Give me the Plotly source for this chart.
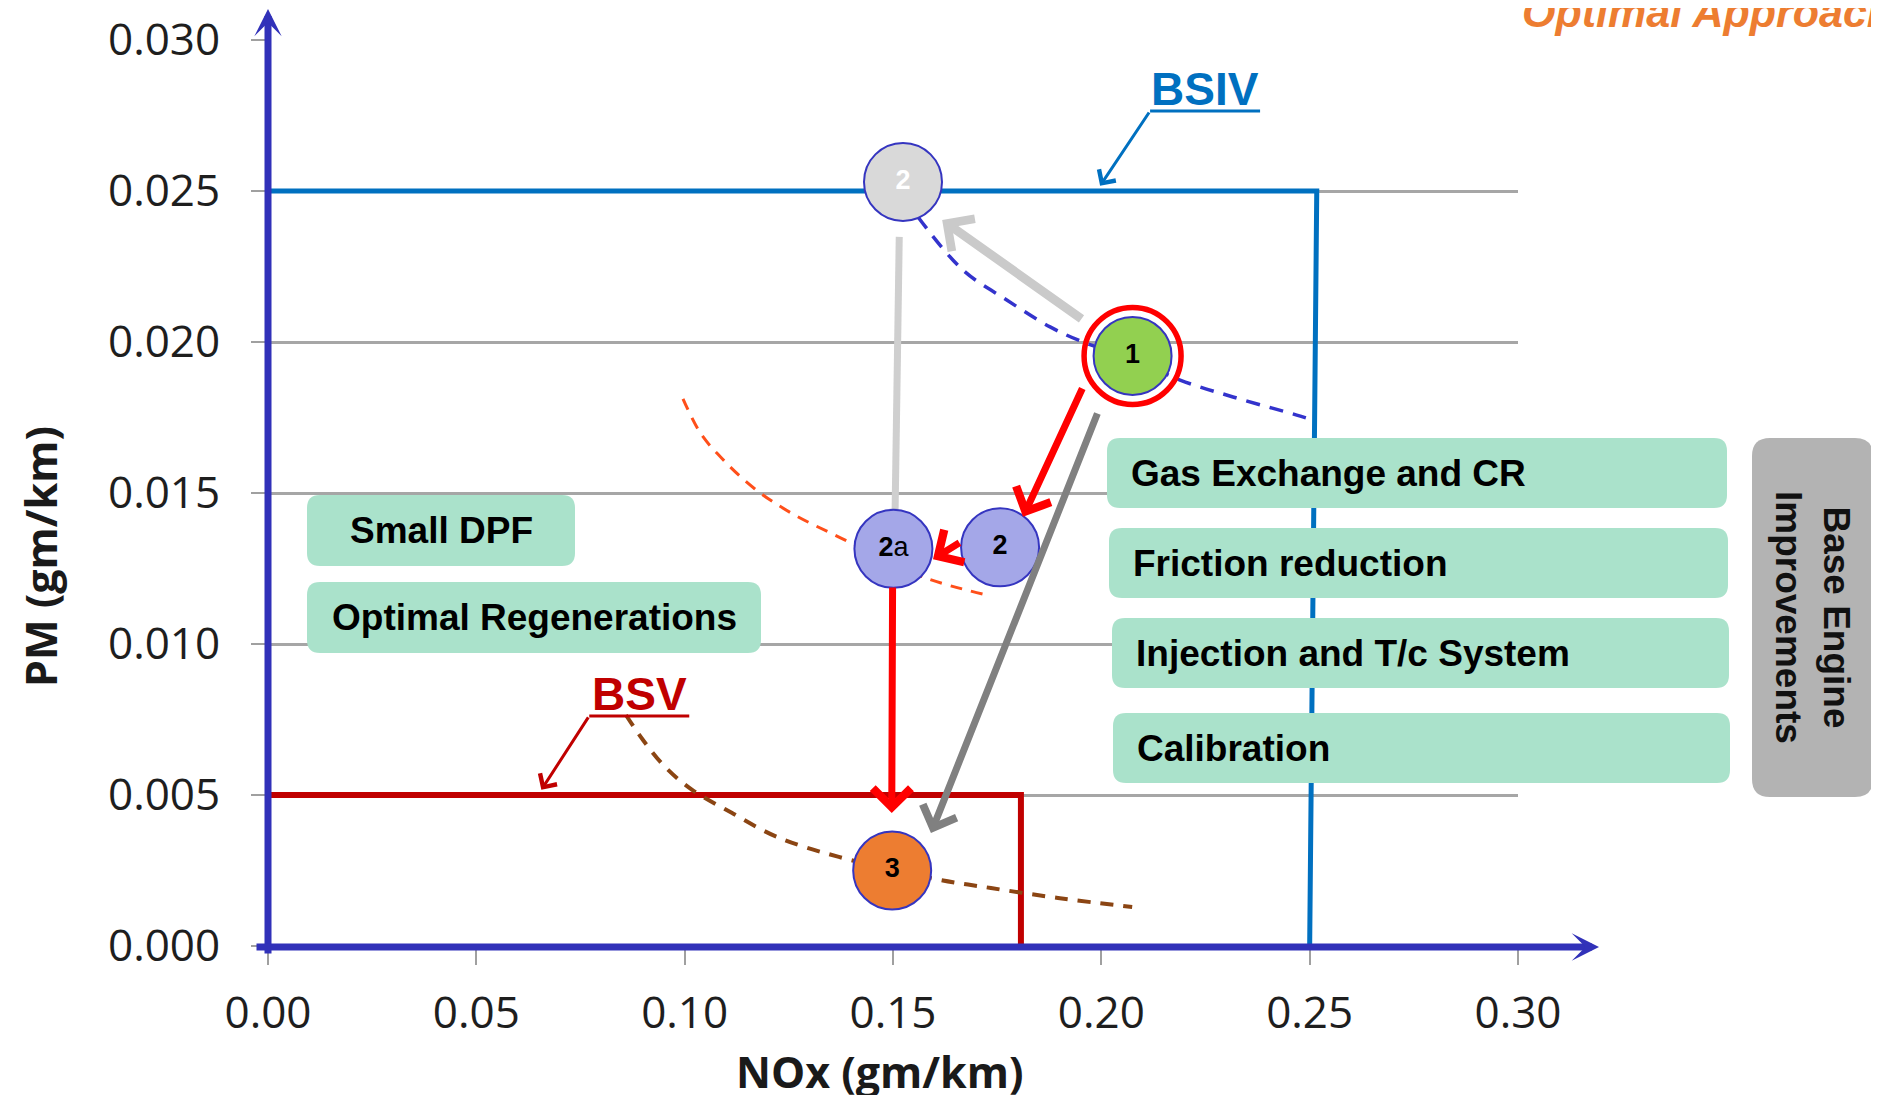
import plotly.graph_objects as go

# ---------------- data ----------------
x_ticks = [0.00, 0.05, 0.10, 0.15, 0.20, 0.25, 0.30]
y_ticks = [0.000, 0.005, 0.010, 0.015, 0.020, 0.025, 0.030]

# emission limit boxes
bsiv_nox = [0.0, 0.2517, 0.2500]
bsiv_pm = [0.025, 0.025, 0.0]
bsv_nox = [0.0, 0.1807, 0.1807]
bsv_pm = [0.005, 0.005, 0.0]

# trade-off curves (dashed)
bsiv_curve_nox = [0.1560, 0.1668, 0.1773, 0.1877, 0.1956, 0.2075, 0.2189, 0.2316, 0.2469, 0.2499]
bsiv_curve_pm = [0.02414, 0.02238, 0.02139, 0.0205, 0.0200, 0.01945, 0.01874, 0.01818, 0.01758, 0.01745]
mid_curve_nox = [0.0996, 0.1039, 0.1096, 0.1168, 0.1254, 0.1369, 0.1572, 0.1726]
mid_curve_pm = [0.01812, 0.01696, 0.01605, 0.01514, 0.01435, 0.01355, 0.01222, 0.01162]
bsv_curve_nox = [0.0859, 0.0900, 0.0953, 0.1018, 0.1114, 0.1222, 0.1370, 0.1601, 0.1735, 0.1896, 0.2074]
bsv_curve_pm = [0.00765, 0.00682, 0.00593, 0.00517, 0.0044, 0.00361, 0.00295, 0.00222, 0.00192, 0.00159, 0.00129]

# development stages
stage_nox = [0.1524, 0.2075, 0.1501, 0.1757, 0.1498]
stage_pm = [0.0253, 0.01954, 0.01315, 0.0132, 0.0025]
stage_text = ["<b>2</b>", "<b>1</b>", "<b>2</b>a", "<b>2</b>", "<b>3</b>"]
stage_fill = ["#D9D9D9", "#92D050", "#A4A7E8", "#A4A7E8", "#ED7D31"]
stage_textcolor = ["#FFFFFF", "#000000", "#000000", "#000000", "#000000"]

# connector (no head) from grey stage 2 to stage 2a
link_nox = [0.1515, 0.1505]
link_pm = [0.02348, 0.01437]

# arrows: tail_nox, tail_pm, tip_nox, tip_pm
arrow_tail_nox = [0.1956, 0.1956, 0.1663, 0.1499, 0.1992]
arrow_tail_pm = [0.02073, 0.01851, 0.01338, 0.01192, 0.01768]
arrow_tip_nox = [0.1618, 0.1812, 0.1596, 0.1497, 0.1591]
arrow_tip_pm = [0.02404, 0.01421, 0.01281, 0.0044, 0.00374]
arrow_color = ["#CACACA", "#FF0000", "#FF0000", "#FF0000", "#808080"]

# limit labels
bsiv_label = dict(text="BSIV", nox=0.2248, pm=0.02765, line_nox=[0.2117, 0.2381], tip=(0.1997, 0.02517))
bsv_label = dict(text="BSV", nox=0.0891, pm=0.00762, line_nox=[0.0771, 0.1011], tip=(0.0656, 0.00517))

left_boxes = ["Small DPF", "Optimal Regenerations"]
right_boxes = ["Gas Exchange and CR", "Friction reduction", "Injection and T/c System", "Calibration"]
side_box_text = "Base Engine<br>Improvements"
corner_text = "Optimal Approach"

# ---------------- layout geometry ----------------
# the page body adds an 8px margin, so the figure is 8px smaller and all
# reference pixel positions below are page positions.
OFF = 8
W, H = 1879 - OFF, 1095 - OFF
PLOT_L, PLOT_R, PLOT_T, PLOT_B = 268, 1518, 40, 946     # page pixels of the plot area
ML, MT = PLOT_L - OFF, PLOT_T - OFF
PW, PH = PLOT_R - PLOT_L, PLOT_B - PLOT_T
MR, MB = W - ML - PW, H - MT - PH


def px(x):
    return (x - PLOT_L) / PW


def py(y):
    return (PLOT_B - y) / PH


def rrect(x0, y0, x1, y1, r):
    pts = [
        f"M{px(x0 + r)},{py(y0)}", f"L{px(x1 - r)},{py(y0)}",
        f"Q{px(x1)},{py(y0)} {px(x1)},{py(y0 + r)}", f"L{px(x1)},{py(y1 - r)}",
        f"Q{px(x1)},{py(y1)} {px(x1 - r)},{py(y1)}", f"L{px(x0 + r)},{py(y1)}",
        f"Q{px(x0)},{py(y1)} {px(x0)},{py(y1 - r)}", f"L{px(x0)},{py(y0 + r)}",
        f"Q{px(x0)},{py(y0)} {px(x0 + r)},{py(y0)}", "Z",
    ]
    return " ".join(pts)


left_box_geom = [(307, 495, 575, 566), (307, 582, 761, 653)]
right_box_geom = [(1107, 438, 1727, 508), (1109, 528, 1728, 598), (1112, 618, 1729, 688), (1113, 713, 1730, 783)]
side_box_geom = (1752, 438, 1873, 797)

GREEN = "#AAE2CB"
AXIS_BLUE = "#3131B9"
BOX_FONT = "Liberation Sans, Arial, sans-serif"
TICK_FONT = "Open Sans, sans-serif"

fig = go.Figure()

# limit boxes
fig.add_trace(go.Scatter(x=bsiv_nox, y=bsiv_pm, mode="lines", line=dict(color="#0070C0", width=5), hoverinfo="skip"))
fig.add_trace(go.Scatter(x=bsv_nox, y=bsv_pm, mode="lines", line=dict(color="#C00000", width=6), hoverinfo="skip"))

# dashed trade-off curves
fig.add_trace(go.Scatter(x=bsiv_curve_nox, y=bsiv_curve_pm, mode="lines", line=dict(color="#3333CC", width=3.5, dash="14px,10px", shape="spline"), hoverinfo="skip"))
fig.add_trace(go.Scatter(x=mid_curve_nox, y=mid_curve_pm, mode="lines", line=dict(color="#FF4F1A", width=3, dash="12px,9px", shape="spline"), hoverinfo="skip"))
fig.add_trace(go.Scatter(x=bsv_curve_nox, y=bsv_curve_pm, mode="lines", line=dict(color="#8B4513", width=4, dash="13px,10px", shape="spline"), hoverinfo="skip"))

# grey connector
fig.add_trace(go.Scatter(x=link_nox, y=link_pm, mode="lines", line=dict(color="#CFCFCF", width=7), hoverinfo="skip"))

# label underlines
for lab, col in [(bsiv_label, "#0070C0"), (bsv_label, "#C00000")]:
    fig.add_trace(go.Scatter(x=lab["line_nox"], y=[lab["pm"], lab["pm"]], mode="lines", line=dict(color=col, width=3), hoverinfo="skip"))

# red ring around stage 1
fig.add_trace(go.Scatter(x=[stage_nox[1]], y=[stage_pm[1]], mode="markers",
                         marker=dict(size=97, color="rgba(0,0,0,0)", line=dict(color="#FF0000", width=5.5)), hoverinfo="skip"))

# stage markers
fig.add_trace(go.Scatter(x=stage_nox, y=stage_pm, mode="markers+text", text=stage_text,
                         textposition="middle center",
                         textfont=dict(family=BOX_FONT, size=27, color=stage_textcolor),
                         marker=dict(size=78, color=stage_fill, line=dict(color="#3535C0", width=2)),
                         hoverinfo="skip"))

ann = []
shapes = []

# arrows between stages
for tx, ty, hx, hy, c in zip(arrow_tail_nox, arrow_tail_pm, arrow_tip_nox, arrow_tip_pm, arrow_color):
    if c == "#CACACA":
        w, s = 9, 0.85
    elif c == "#808080":
        w, s = 7, 1.0
    else:
        w, s = 7, 1.05
    ann.append(dict(x=hx, y=hy, ax=tx, ay=ty, xref="x", yref="y", axref="x", ayref="y", text="",
                    showarrow=True, arrowhead=4, arrowsize=s, arrowwidth=w, arrowcolor=c, standoff=0))

# limit labels + leaders
for lab, col in [(bsiv_label, "#0070C0"), (bsv_label, "#C00000")]:
    ann.append(dict(x=lab["nox"], y=lab["pm"], xref="x", yref="y", text=f"<b>{lab['text']}</b>", showarrow=False,
                    xanchor="center", yanchor="bottom", yshift=-6,
                    font=dict(family=BOX_FONT, size=46, color=col)))
    ann.append(dict(x=lab["tip"][0], y=lab["tip"][1], ax=lab["line_nox"][0], ay=lab["pm"], xref="x", yref="y",
                    axref="x", ayref="y", text="", showarrow=True, arrowhead=4, arrowsize=1.3, arrowwidth=3,
                    arrowcolor=col, standoff=0))

# axis arrows
ann.append(dict(x=0, y=py(9), xref="paper", yref="paper", ax=0, ay=946, axref="pixel", ayref="pixel", text="",
                showarrow=True, arrowhead=3, arrowsize=0.65, arrowwidth=7, arrowcolor=AXIS_BLUE, standoff=0))
ann.append(dict(x=px(1599), y=py(947), xref="paper", yref="paper", ax=-1344, ay=0, axref="pixel", ayref="pixel", text="",
                showarrow=True, arrowhead=3, arrowsize=0.65, arrowwidth=7, arrowcolor=AXIS_BLUE, standoff=0))

# boxes
for txt, (x0, y0, x1, y1) in zip(left_boxes, left_box_geom):
    shapes.append(dict(type="path", xref="paper", yref="paper", path=rrect(x0, y0, x1, y1, 13),
                       fillcolor=GREEN, line=dict(width=0), layer="above"))
    ann.append(dict(x=px((x0 + x1) / 2), y=py((y0 + y1) / 2), xref="paper", yref="paper", text=f"<b>{txt}</b>",
                    showarrow=False, xanchor="center", yanchor="middle",
                    font=dict(family=BOX_FONT, size=37, color="#000000")))
for txt, (x0, y0, x1, y1) in zip(right_boxes, right_box_geom):
    shapes.append(dict(type="path", xref="paper", yref="paper", path=rrect(x0, y0, x1, y1, 13),
                       fillcolor=GREEN, line=dict(width=0), layer="above"))
    ann.append(dict(x=px(x0 + 22), y=py((y0 + y1) / 2), xref="paper", yref="paper", text=f"<b>{txt}</b>",
                    showarrow=False, xanchor="left", yanchor="middle",
                    font=dict(family=BOX_FONT, size=37, color="#000000")))
x0, y0, x1, y1 = side_box_geom
shapes.append(dict(type="path", xref="paper", yref="paper", path=rrect(x0, y0, x1, y1, 18),
                   fillcolor="#B3B3B3", line=dict(width=0), layer="above"))
ann.append(dict(x=px((x0 + x1) / 2), y=py((y0 + y1) / 2), xref="paper", yref="paper", text=f"<b>{side_box_text}</b>",
                showarrow=False, xanchor="center", yanchor="middle", textangle=90,
                font=dict(family=BOX_FONT, size=37, color="#111111")))

# axis titles
ann.append(dict(x=px(40), y=py(557), xref="paper", yref="paper", text="<b>PM (gm/km)</b>", showarrow=False,
                textangle=-90, xanchor="center", yanchor="middle",
                font=dict(family=TICK_FONT, size=43, color="#1A1A1A")))
ann.append(dict(x=px(880), y=py(1071), xref="paper", yref="paper", text="<b>NOx (gm/km)</b>", showarrow=False,
                xanchor="center", yanchor="middle",
                font=dict(family=TICK_FONT, size=43, color="#1A1A1A")))

# corner title (cut off by the page edge)
ann.append(dict(x=px(1520), y=py(38), xref="paper", yref="paper", text=f"<b><i>{corner_text}</i></b>",
                showarrow=False, xanchor="left", yanchor="bottom",
                font=dict(family=BOX_FONT, size=43, color="#ED7D31")))

fig.update_layout(
    width=W, height=H,
    margin=dict(l=ML, r=MR, t=MT, b=MB, autoexpand=False),
    paper_bgcolor="white", plot_bgcolor="white",
    showlegend=False,
    annotations=ann, shapes=shapes,
    xaxis=dict(range=[0, 0.30], tickvals=x_ticks, tickformat=".2f", showgrid=False, zeroline=False,
               showline=False, ticks="outside", ticklen=18, tickwidth=2, tickcolor="#A0A0A0",
               ticklabelstandoff=10, tickfont=dict(family=TICK_FONT, size=44, color="#1E1E1E")),
    yaxis=dict(range=[0, 0.030], tickvals=y_ticks, tickformat=".3f", showgrid=True, gridcolor="#A6A6A6",
               gridwidth=2.5, zeroline=False, showline=False, ticks="outside", ticklen=16, tickwidth=2,
               tickcolor="#A0A0A0", ticklabelstandoff=22,
               tickfont=dict(family=TICK_FONT, size=44, color="#1E1E1E")),
)

fig.write_html("out.html")
